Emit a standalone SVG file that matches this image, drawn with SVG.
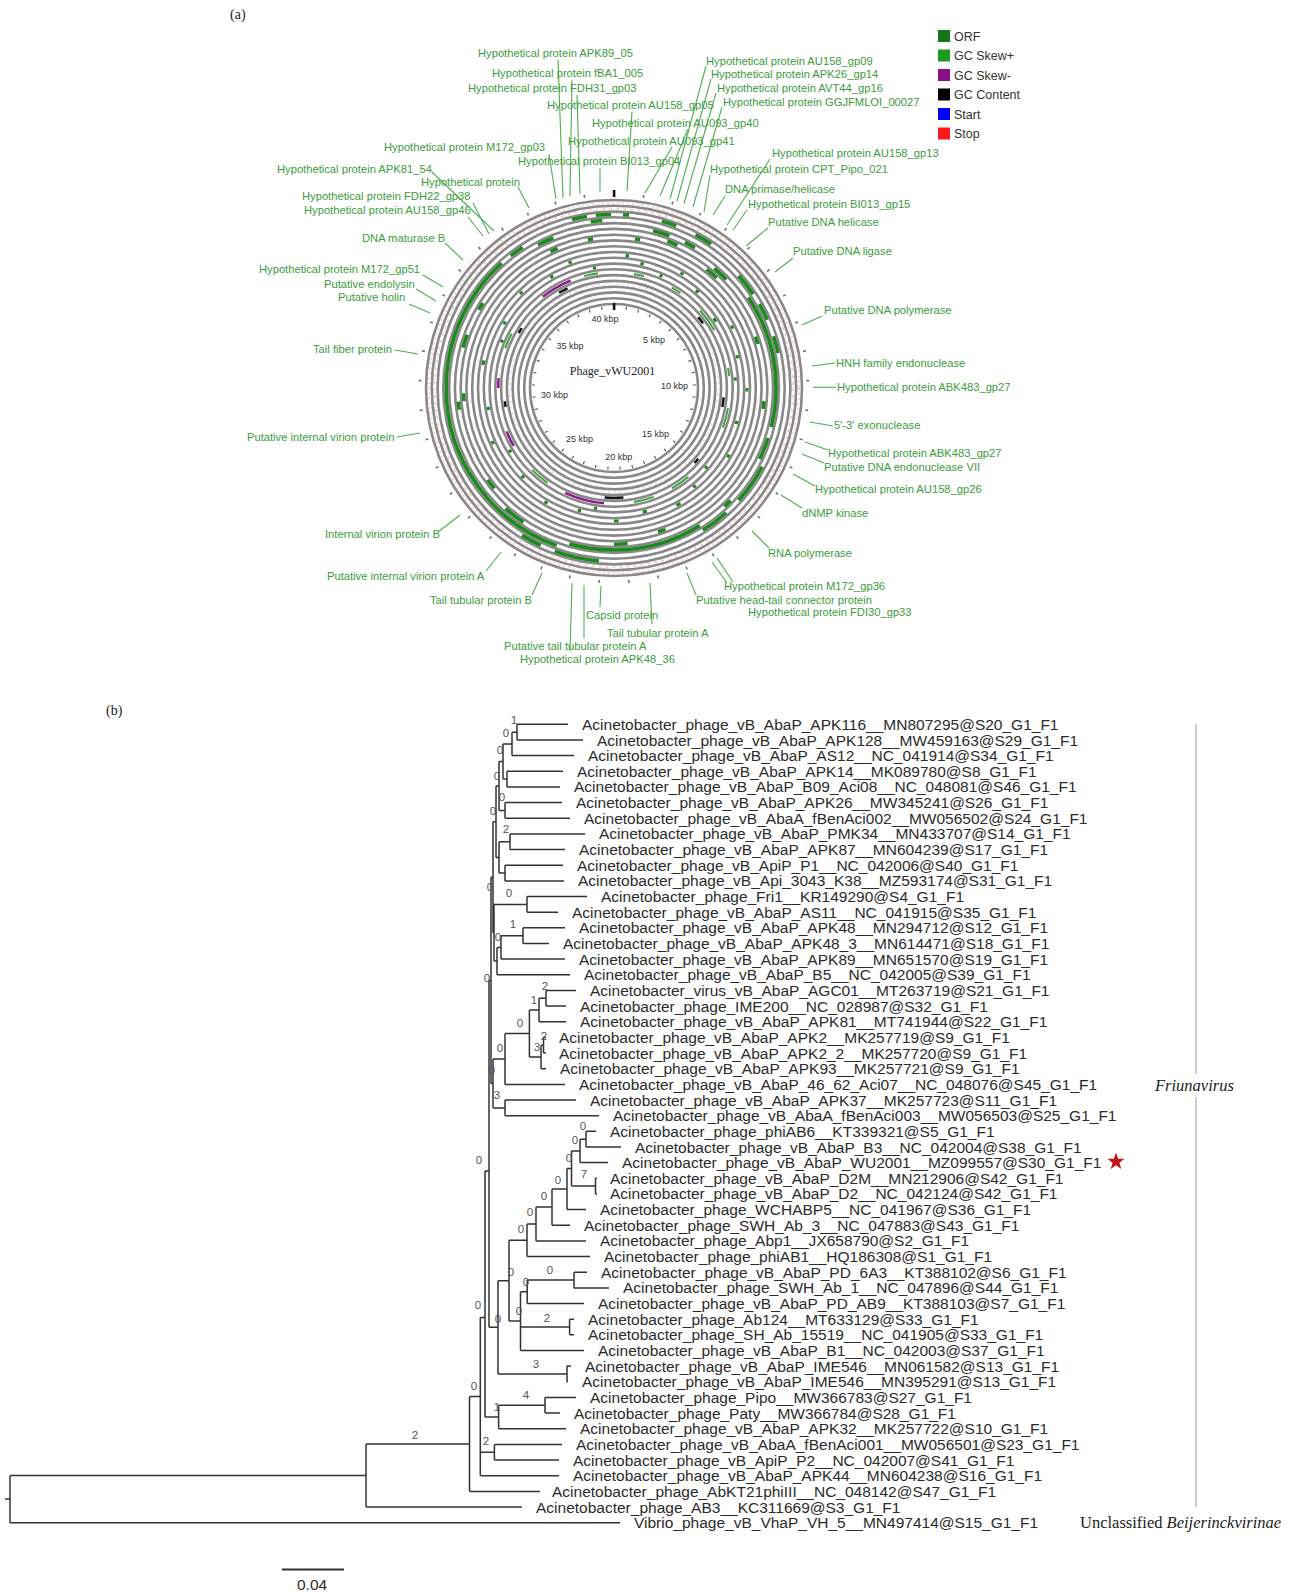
<svg xmlns="http://www.w3.org/2000/svg" width="1303" height="1595" viewBox="0 0 1303 1595">
<style>
.lbl{font-family:"Liberation Sans",Arial,sans-serif;font-size:11.2px;fill:#3c9c3c}
.ldr{stroke:#4fae4f;stroke-width:1.1;fill:none}
.ring{fill:none;stroke:#888;stroke-width:2.6}
.trk{fill:none}
.kbp{font-family:"Liberation Sans",Arial,sans-serif;font-size:9px;fill:#333;text-anchor:middle}
.leg{font-family:"Liberation Sans",Arial,sans-serif;font-size:12.5px;fill:#333}
.leaf{font-family:"Liberation Sans",Arial,sans-serif;font-size:15.5px;fill:#2b2b2b}
.sup{font-family:"Liberation Sans",Arial,sans-serif;font-size:11.5px;fill:#555;text-anchor:middle}
.br{stroke:#333;stroke-width:1.5;fill:none}
.ser{font-family:"Liberation Serif","Times New Roman",serif;fill:#222}
</style>
<rect width="1303" height="1595" fill="#fff"/>
<text class="ser" x="230" y="19" font-size="14">(a)</text>
<text class="ser" x="106" y="715" font-size="14">(b)</text>

<!-- Circular genome map -->
<g id="genome-map">
  <g id="rings">
    <circle class="ring" cx="614" cy="388" r="188"/>
    <circle class="ring" cx="614" cy="388" r="182.2"/>
    <circle class="ring" cx="614" cy="388" r="176.4"/>
    <circle class="ring" cx="614" cy="388" r="170.7"/>
    <circle class="ring" cx="614" cy="388" r="164.9"/>
    <circle class="ring" cx="614" cy="388" r="159.1"/>
    <circle class="ring" cx="614" cy="388" r="153.3"/>
    <circle class="ring" cx="614" cy="388" r="147.6"/>
    <circle class="ring" cx="614" cy="388" r="141.8" stroke-width="6.5" stroke="#8f8f8f"/>
    <circle class="ring" cx="614" cy="388" r="136"/>
    <circle class="ring" cx="614" cy="388" r="130.2"/>
    <circle class="ring" cx="614" cy="388" r="124.4"/>
    <circle class="ring" cx="614" cy="388" r="118.7"/>
    <circle class="ring" cx="614" cy="388" r="112.9"/>
    <circle class="ring" cx="614" cy="388" r="107.1"/>
    <circle class="ring" cx="614" cy="388" r="101.3"/>
    <circle class="ring" cx="614" cy="388" r="95.6"/>
    <circle class="ring" cx="614" cy="388" r="89.8"/>
    <circle class="ring" cx="614" cy="388" r="84"/>
    <circle cx="614" cy="388" r="185.1" fill="none" stroke="#f3d2d2" stroke-width="2" stroke-dasharray="2 3"/>
    <circle cx="614" cy="388" r="179.3" fill="none" stroke="#f3d2d2" stroke-width="2" stroke-dasharray="3 4"/>
    <circle cx="614" cy="388" r="104.2" fill="none" stroke="#f0d0ec" stroke-width="1.5" stroke-dasharray="2 4"/>
  </g>
  <g id="tracks" transform="rotate(-90 614 388)">
    <circle class="trk" cx="614" cy="388" r="173.6" pathLength="360" stroke="#1a8a1a" stroke-width="3.5" stroke-dasharray="0 3 2 11 5 7 6 151 15 5 7 134 5 3 5 1"/>
    <circle class="trk" cx="614" cy="388" r="167.8" pathLength="360" stroke="#1a8a1a" stroke-width="3.5" stroke-dasharray="0 48 8 4 6 6 6 40 14 6 10 52 118 4 5 25 4 4"/>
    <circle class="trk" cx="614" cy="388" r="162" pathLength="360" stroke="#1a8a1a" stroke-width="3.5" stroke-dasharray="0 14 6 6 4 26 48 4 8 18 3 11 48 18 8 110 6 22"/>
    <circle class="trk" cx="614" cy="388" r="156.2" pathLength="360" stroke="#1a8a1a" stroke-width="3.5" stroke-dasharray="0 20 4 16 6 129 5 50 4 28 3 20 5 10 3 57"/>
    <circle class="trk" cx="614" cy="388" r="150.5" pathLength="360" stroke="#1a8a1a" stroke-width="3.5" stroke-dasharray="0 8 2 28 5 27 3 22 3 62 3 102 3 67 3 12 2 8"/>
    <circle class="trk" cx="614" cy="388" r="133" pathLength="360" stroke="#1a8a1a" stroke-width="3" stroke-dasharray="0 5 1.5 23.5 1.5 30.5 1.5 26.5 1.5 28.5 1.5 28.5 2 26 2 30 1.5 33.5 1.5 33.5 2 33 1.5 23.5 1.5 18.5"/>
    <circle class="trk" cx="614" cy="388" r="127.3" pathLength="360" stroke="#1a8a1a" stroke-width="3" stroke-dasharray="0 12 1.5 26.5 1.5 33.5 1.5 28.5 1.5 33.5 1.5 23.5 2 28 1.5 28.5 1.5 33.5 1.5 38.5 1.5 28.5 1.5 28.5"/>
    <circle class="trk" cx="614" cy="388" r="121.6" pathLength="360" stroke="#1a8a1a" stroke-width="3" stroke-dasharray="0 22 1.5 31.5 2 28 1.5 43.5 1.5 56.5 1.5 48.5 1.5 52.5 1.5 56.5 1.5 8.5"/>
    <circle class="trk" cx="614" cy="388" r="115.8" pathLength="360" stroke="#3aa53a" stroke-width="2" stroke-dasharray="0 10 5 15 5 13 12 20 4 16 10 30 10 10 10 45 10 65 8 47 7 8"/>
    <circle class="trk" cx="614" cy="388" r="115.8" pathLength="360" stroke="#8b1a8b" stroke-width="2.5" stroke-dasharray="0 185 20 35 8 22 5 47 16 22"/>
    <circle class="trk" cx="614" cy="388" r="110" pathLength="360" stroke="#111" stroke-width="2.5" stroke-dasharray="0 50 4 41 5 30 3 42 10 75 3 37 3 27 5 25"/>
    <circle class="trk" cx="614" cy="388" r="194" pathLength="360" stroke="#777" stroke-width="3" stroke-dasharray="0.5 8.2805" stroke-dashoffset="0.25"/>
    <circle class="trk" cx="614" cy="388" r="80.5" pathLength="360" stroke="#555" stroke-width="3" stroke-dasharray="0.8 7.9805" stroke-dashoffset="0.4"/>
  </g>
  <rect x="612.8" y="190" width="2.6" height="7" fill="#111"/>
  <rect x="612.8" y="303" width="2.6" height="7" fill="#111"/>
  <text class="kbp" x="605" y="322">40 kbp</text>
  <text class="kbp" x="654" y="343">5 kbp</text>
  <text class="kbp" x="674.5" y="389">10 kbp</text>
  <text class="kbp" x="655.5" y="437">15 kbp</text>
  <text class="kbp" x="618.7" y="460">20 kbp</text>
  <text class="kbp" x="579.5" y="442">25 kbp</text>
  <text class="kbp" x="554.5" y="398">30 kbp</text>
  <text class="kbp" x="570" y="349">35 kbp</text>
  <text class="ser" x="612.5" y="375" font-size="12" text-anchor="middle" fill="#333">Phage_vWU2001</text>
</g>

<g id="map-connectors">
  <line class="ldr" x1="558" y1="60" x2="563" y2="198"/>
  <line class="ldr" x1="572" y1="80" x2="570" y2="196"/>
  <line class="ldr" x1="577" y1="95" x2="580" y2="194"/>
  <line class="ldr" x1="632" y1="112" x2="627" y2="191"/>
  <line class="ldr" x1="688" y1="129" x2="660" y2="196"/>
  <line class="ldr" x1="672" y1="147" x2="645" y2="193"/>
  <line class="ldr" x1="600" y1="168" x2="600" y2="191.5"/>
  <line class="ldr" x1="549" y1="154" x2="556" y2="199"/>
  <line class="ldr" x1="706" y1="66" x2="670" y2="199"/>
  <line class="ldr" x1="711" y1="79" x2="677" y2="201"/>
  <line class="ldr" x1="716" y1="93" x2="684" y2="203.5"/>
  <line class="ldr" x1="722" y1="107" x2="693" y2="207"/>
  <line class="ldr" x1="770" y1="159" x2="727" y2="225"/>
  <line class="ldr" x1="710" y1="175" x2="704" y2="212"/>
  <line class="ldr" x1="725" y1="196" x2="713" y2="215"/>
  <line class="ldr" x1="747" y1="210" x2="733" y2="230"/>
  <line class="ldr" x1="768" y1="228" x2="746" y2="246"/>
  <line class="ldr" x1="793" y1="258" x2="775" y2="272"/>
  <line class="ldr" x1="822" y1="316" x2="802" y2="325"/>
  <line class="ldr" x1="835" y1="363" x2="812" y2="366"/>
  <line class="ldr" x1="836" y1="387.3" x2="813" y2="387.3"/>
  <line class="ldr" x1="833" y1="426" x2="810" y2="422"/>
  <line class="ldr" x1="828" y1="450" x2="805" y2="442"/>
  <line class="ldr" x1="824" y1="463" x2="802" y2="454"/>
  <line class="ldr" x1="815" y1="486" x2="793" y2="474"/>
  <line class="ldr" x1="802" y1="508" x2="781" y2="495"/>
  <line class="ldr" x1="769" y1="548" x2="752" y2="531"/>
  <line class="ldr" x1="733" y1="582" x2="717" y2="558"/>
  <line class="ldr" x1="727" y1="583" x2="712" y2="562"/>
  <line class="ldr" x1="696" y1="595" x2="687" y2="573"/>
  <line class="ldr" x1="652" y1="624" x2="650" y2="583"/>
  <line class="ldr" x1="600" y1="607" x2="601" y2="586"/>
  <line class="ldr" x1="584" y1="638" x2="584" y2="585.5"/>
  <line class="ldr" x1="570" y1="651" x2="572" y2="583"/>
  <line class="ldr" x1="532" y1="595" x2="542" y2="573"/>
  <line class="ldr" x1="486" y1="571" x2="501" y2="552"/>
  <line class="ldr" x1="438" y1="532" x2="460" y2="515"/>
  <line class="ldr" x1="397" y1="437" x2="420" y2="433"/>
  <line class="ldr" x1="395" y1="350" x2="418" y2="354"/>
  <line class="ldr" x1="409" y1="304" x2="430" y2="313"/>
  <line class="ldr" x1="416" y1="289" x2="436" y2="301"/>
  <line class="ldr" x1="423" y1="275" x2="443" y2="287"/>
  <line class="ldr" x1="445" y1="243" x2="463" y2="260"/>
  <line class="ldr" x1="468" y1="217" x2="483" y2="236"/>
  <line class="ldr" x1="473" y1="203" x2="489" y2="234"/>
  <line class="ldr" x1="432" y1="172" x2="494" y2="231"/>
  <line class="ldr" x1="518" y1="187" x2="529" y2="208"/>
</g>

<g id="map-labels">
  <g id="m1"><text class="lbl" x="478" y="57">Hypothetical protein APK89_05</text></g>
  <g id="m2"><text class="lbl" x="492" y="77">Hypothetical protein fBA1_005</text></g>
  <g id="m3"><text class="lbl" x="468" y="92">Hypothetical protein FDH31_gp03</text></g>
  <g id="m4"><text class="lbl" x="547" y="109">Hypothetical protein AU158_gp05</text></g>
  <g id="m5"><text class="lbl" x="592" y="127">Hypothetical protein AU093_gp40</text></g>
  <g id="m6"><text class="lbl" x="568" y="145">Hypothetical protein AU093_gp41</text></g>
  <g id="m7"><text class="lbl" x="518" y="165">Hypothetical protein BI013_gp04</text></g>
  <g id="m8"><text class="lbl" x="384" y="151">Hypothetical protein M172_gp03</text></g>
  <g id="m9"><text class="lbl" x="277" y="173">Hypothetical protein APK81_54</text></g>
  <g id="m10"><text class="lbl" x="421" y="186">Hypothetical protein</text></g>
  <g id="m11"><text class="lbl" x="302" y="200">Hypothetical protein FDH22_gp38</text></g>
  <g id="m12"><text class="lbl" x="304" y="214">Hypothetical protein AU158_gp46</text></g>
  <g id="m13"><text class="lbl" x="362" y="242">DNA maturase B</text></g>
  <g id="m14"><text class="lbl" x="259" y="273">Hypothetical protein M172_gp51</text></g>
  <g id="m15"><text class="lbl" x="324" y="288">Putative endolysin</text></g>
  <g id="m16"><text class="lbl" x="338" y="301">Putative holin</text></g>
  <g id="m17"><text class="lbl" x="313" y="353">Tail fiber protein</text></g>
  <g id="m18"><text class="lbl" x="247" y="441">Putative internal virion protein</text></g>
  <g id="m19"><text class="lbl" x="325" y="538">Internal virion protein B</text></g>
  <g id="m20"><text class="lbl" x="327" y="580">Putative internal virion protein A</text></g>
  <g id="m21"><text class="lbl" x="430" y="604">Tail tubular protein B</text></g>
  <g id="m22"><text class="lbl" x="586" y="619">Capsid protein</text></g>
  <g id="m23"><text class="lbl" x="607" y="637">Tail tubular protein A</text></g>
  <g id="m24"><text class="lbl" x="504" y="650">Putative tail tubular protein A</text></g>
  <g id="m25"><text class="lbl" x="520" y="663">Hypothetical protein APK48_36</text></g>
  <g id="m26"><text class="lbl" x="706" y="65">Hypothetical protein AU158_gp09</text></g>
  <g id="m27"><text class="lbl" x="711" y="78">Hypothetical protein APK26_gp14</text></g>
  <g id="m28"><text class="lbl" x="717" y="92">Hypothetical protein AVT44_gp16</text></g>
  <g id="m29"><text class="lbl" x="723" y="106">Hypothetical protein GGJFMLOI_00027</text></g>
  <g id="m30"><text class="lbl" x="772" y="157">Hypothetical protein AU158_gp13</text></g>
  <g id="m31"><text class="lbl" x="710" y="173">Hypothetical protein CPT_Pipo_021</text></g>
  <g id="m32"><text class="lbl" x="725" y="193">DNA primase/helicase</text></g>
  <g id="m33"><text class="lbl" x="748" y="208">Hypothetical protein BI013_gp15</text></g>
  <g id="m34"><text class="lbl" x="768" y="226">Putative DNA helicase</text></g>
  <g id="m35"><text class="lbl" x="793" y="255">Putative DNA ligase</text></g>
  <g id="m36"><text class="lbl" x="824" y="314">Putative DNA polymerase</text></g>
  <g id="m37"><text class="lbl" x="836" y="367">HNH family endonuclease</text></g>
  <g id="m38"><text class="lbl" x="837" y="391">Hypothetical protein ABK483_gp27</text></g>
  <g id="m39"><text class="lbl" x="834" y="429">5'-3' exonuclease</text></g>
  <g id="m40"><text class="lbl" x="828" y="457">Hypothetical protein ABK483_gp27</text></g>
  <g id="m41"><text class="lbl" x="824" y="471">Putative DNA endonuclease VII</text></g>
  <g id="m42"><text class="lbl" x="815" y="493">Hypothetical protein AU158_gp26</text></g>
  <g id="m43"><text class="lbl" x="802" y="517">dNMP kinase</text></g>
  <g id="m44"><text class="lbl" x="768" y="557">RNA polymerase</text></g>
  <g id="m45"><text class="lbl" x="724" y="590">Hypothetical protein M172_gp36</text></g>
  <g id="m46"><text class="lbl" x="696" y="604">Putative head-tail connector protein</text></g>
  <g id="m47"><text class="lbl" x="748" y="616">Hypothetical protein FDI30_gp33</text></g>
</g>

<g id="legend">
  <rect x="938" y="30" width="12" height="12" fill="#137813"/><text class="leg" x="954" y="40.5">ORF</text>
  <rect x="938" y="49.5" width="12" height="12" fill="#1f9a1f"/><text class="leg" x="954" y="60">GC Skew+</text>
  <rect x="938" y="69" width="12" height="12" fill="#8b0f8b"/><text class="leg" x="954" y="79.5">GC Skew-</text>
  <rect x="938" y="88.5" width="12" height="12" fill="#000"/><text class="leg" x="954" y="99">GC Content</text>
  <rect x="938" y="108" width="12" height="12" fill="#0000ff"/><text class="leg" x="954" y="118.5">Start</text>
  <rect x="938" y="127.5" width="12" height="12" fill="#ff1a1a"/><text class="leg" x="954" y="138">Stop</text>
</g>

<!-- Phylogenetic tree -->
<g id="tree-connectors">
<path class="br" d="M517 724.3V740M517 724.3H568M517 740H583M512 732.2V755.6M512 732.2H517M512 755.6H574M507 771.3V786.9M507 771.3H563M507 786.9H560M503 743.9V779.1M503 743.9H512M503 779.1H507M505 802.6V818.2M505 802.6H562M505 818.2H570M499 761.5V810.4M499 761.5H503M499 810.4H505M510 833.9V849.5M510 833.9H585M510 849.5H565M505 865.2V880.9M505 865.2H563M505 880.9H564M499 841.7V873M499 841.7H510M499 873H505M496 786V857.4M496 786H499M496 857.4H499M527 896.5V912.2M527 896.5H587M527 912.2H558M523 927.8V943.5M523 927.8H565M523 943.5H549M501 935.7V959.1M501 935.7H523M501 959.1H565M497 947.4V974.8M497 947.4H501M497 974.8H570M494 904.4V961.1M494 904.4H527M494 961.1H497M493 821.7V932.8M493 821.7H496M493 932.8H494"/>
<path class="br" d="M546 990.4V1006.1M546 990.4H576M546 1006.1H566M539 998.3V1021.7M539 998.3H546M539 1021.7H566M543.5 1037.4V1053M543.5 1037.4H546M543.5 1053H546M541 1045.2V1068.7M541 1045.2H543.5M541 1068.7H546M529.4 1010V1057M529.4 1010H539M529.4 1057H541M505 1033.5V1084.4M505 1033.5H529.4M505 1084.4H565M505 1100V1115.7M505 1100H576M505 1115.7H599M493 1059V1107.9M493 1059H505M493 1107.9H505M491 877.2V1083.5M491 877.2H493M491 1083.5H493"/>
<path class="br" d="M586 1131.3V1147M586 1131.3H596M586 1147H621M580 1139.2V1162.6M580 1139.2H586M580 1162.6H608M595.5 1178.3V1193.9M595.5 1178.3H597M595.5 1193.9H597M571.5 1150.9V1186.1M571.5 1150.9H580M571.5 1186.1H595.5M567 1168.5V1209.6M567 1168.5H571.5M567 1209.6H586M552 1189V1225.2M552 1189H567M552 1225.2H570M536 1207.1V1240.9M536 1207.1H552M536 1240.9H586M527 1224V1256.6M527 1224H536M527 1256.6H590M574 1272.2V1287.9M574 1272.2H587M574 1287.9H609M527.2 1280V1303.5M527.2 1280H574M527.2 1303.5H584M569.6 1319.2V1334.8M569.6 1319.2H574M569.6 1334.8H574M520.5 1291.8V1350.5M520.5 1291.8H527.2M520.5 1327H569.6M520.5 1350.5H584M509 1240.3V1321M509 1240.3H527M509 1321H520.5M567 1366.1V1381.8M567 1366.1H571M567 1381.8H568M498 1280.7V1374M498 1280.7H509M498 1374H567"/>
<path class="br" d="M489 980.4V1327.3M489 980.4H491M489 1327.3H498M545 1397.4V1413.1M545 1397.4H576M545 1413.1H560M498.6 1405.3V1428.7M498.6 1405.3H545M498.6 1428.7H566M485 1171V1416.9M485 1171H489M485 1416.9H498.6M494.4 1444.4V1460.1M494.4 1444.4H562M494.4 1460.1H559M480.3 1317.5V1475.7M480.3 1317.5H485M480.3 1452.2H494.4M480.3 1475.7H559M469.5 1396.6V1491.4M469.5 1396.6H480.3M469.5 1491.4H540M366 1444V1507M366 1444H469.5M366 1507H522M10 1475.6V1522.7M10 1475.6H366M10 1522.7H620M5 1499H10"/>
</g>

<g id="support-values">
<text class="sup" x="514" y="724">1</text>
<text class="sup" x="506" y="737">0</text>
<text class="sup" x="500" y="754">0</text>
<text class="sup" x="497" y="780">0</text>
<text class="sup" x="502" y="801">0</text>
<text class="sup" x="506" y="833">2</text>
<text class="sup" x="493" y="815">0</text>
<text class="sup" x="490" y="891">0</text>
<text class="sup" x="509" y="897">0</text>
<text class="sup" x="513" y="928">1</text>
<text class="sup" x="498" y="941">0</text>
<text class="sup" x="487" y="982">0</text>
<text class="sup" x="545" y="990">2</text>
<text class="sup" x="534" y="1004">1</text>
<text class="sup" x="520" y="1027">0</text>
<text class="sup" x="544" y="1040">2</text>
<text class="sup" x="537" y="1051">3</text>
<text class="sup" x="500" y="1052">0</text>
<text class="sup" x="492" y="1074">0</text>
<text class="sup" x="497" y="1099">3</text>
<text class="sup" x="583" y="1130">0</text>
<text class="sup" x="575" y="1144">0</text>
<text class="sup" x="569" y="1162">0</text>
<text class="sup" x="584" y="1178">7</text>
<text class="sup" x="558" y="1184">0</text>
<text class="sup" x="479" y="1164">0</text>
<text class="sup" x="544" y="1200">0</text>
<text class="sup" x="530" y="1216">0</text>
<text class="sup" x="521" y="1233">0</text>
<text class="sup" x="550" y="1274">0</text>
<text class="sup" x="511" y="1276">0</text>
<text class="sup" x="526" y="1286">0</text>
<text class="sup" x="478" y="1309">0</text>
<text class="sup" x="519" y="1315">0</text>
<text class="sup" x="498" y="1323">0</text>
<text class="sup" x="547" y="1322">2</text>
<text class="sup" x="536" y="1368">3</text>
<text class="sup" x="474" y="1390">0</text>
<text class="sup" x="526" y="1399">4</text>
<text class="sup" x="497" y="1411">1</text>
<text class="sup" x="486" y="1445">2</text>
<text class="sup" x="415" y="1439">2</text>
</g>

<g id="leaves">
<g id="leaf1"><text class="leaf" x="582" y="729.8">Acinetobacter_phage_vB_AbaP_APK116__MN807295@S20_G1_F1</text></g>
<g id="leaf2"><text class="leaf" x="597" y="745.5">Acinetobacter_phage_vB_AbaP_APK128__MW459163@S29_G1_F1</text></g>
<g id="leaf3"><text class="leaf" x="588" y="761.1">Acinetobacter_phage_vB_AbaP_AS12__NC_041914@S34_G1_F1</text></g>
<g id="leaf4"><text class="leaf" x="577" y="776.8">Acinetobacter_phage_vB_AbaP_APK14__MK089780@S8_G1_F1</text></g>
<g id="leaf5"><text class="leaf" x="574" y="792.4">Acinetobacter_phage_vB_AbaP_B09_Aci08__NC_048081@S46_G1_F1</text></g>
<g id="leaf6"><text class="leaf" x="576" y="808.1">Acinetobacter_phage_vB_AbaP_APK26__MW345241@S26_G1_F1</text></g>
<g id="leaf7"><text class="leaf" x="584" y="823.7">Acinetobacter_phage_vB_AbaA_fBenAci002__MW056502@S24_G1_F1</text></g>
<g id="leaf8"><text class="leaf" x="599" y="839.4">Acinetobacter_phage_vB_AbaP_PMK34__MN433707@S14_G1_F1</text></g>
<g id="leaf9"><text class="leaf" x="579" y="855">Acinetobacter_phage_vB_AbaP_APK87__MN604239@S17_G1_F1</text></g>
<g id="leaf10"><text class="leaf" x="577" y="870.7">Acinetobacter_phage_vB_ApiP_P1__NC_042006@S40_G1_F1</text></g>
<g id="leaf11"><text class="leaf" x="578" y="886.4">Acinetobacter_phage_vB_Api_3043_K38__MZ593174@S31_G1_F1</text></g>
<g id="leaf12"><text class="leaf" x="601" y="902">Acinetobacter_phage_Fri1__KR149290@S4_G1_F1</text></g>
<g id="leaf13"><text class="leaf" x="572" y="917.7">Acinetobacter_phage_vB_AbaP_AS11__NC_041915@S35_G1_F1</text></g>
<g id="leaf14"><text class="leaf" x="579" y="933.3">Acinetobacter_phage_vB_AbaP_APK48__MN294712@S12_G1_F1</text></g>
<g id="leaf15"><text class="leaf" x="563" y="949">Acinetobacter_phage_vB_AbaP_APK48_3__MN614471@S18_G1_F1</text></g>
<g id="leaf16"><text class="leaf" x="579" y="964.6">Acinetobacter_phage_vB_AbaP_APK89__MN651570@S19_G1_F1</text></g>
<g id="leaf17"><text class="leaf" x="584" y="980.3">Acinetobacter_phage_vB_AbaP_B5__NC_042005@S39_G1_F1</text></g>
<g id="leaf18"><text class="leaf" x="590" y="995.9">Acinetobacter_virus_vB_AbaP_AGC01__MT263719@S21_G1_F1</text></g>
<g id="leaf19"><text class="leaf" x="580" y="1011.6">Acinetobacter_phage_IME200__NC_028987@S32_G1_F1</text></g>
<g id="leaf20"><text class="leaf" x="580" y="1027.2">Acinetobacter_phage_vB_AbaP_APK81__MT741944@S22_G1_F1</text></g>
<g id="leaf21"><text class="leaf" x="559" y="1042.9">Acinetobacter_phage_vB_AbaP_APK2__MK257719@S9_G1_F1</text></g>
<g id="leaf22"><text class="leaf" x="559" y="1058.5">Acinetobacter_phage_vB_AbaP_APK2_2__MK257720@S9_G1_F1</text></g>
<g id="leaf23"><text class="leaf" x="560" y="1074.2">Acinetobacter_phage_vB_AbaP_APK93__MK257721@S9_G1_F1</text></g>
<g id="leaf24"><text class="leaf" x="579" y="1089.9">Acinetobacter_phage_vB_AbaP_46_62_Aci07__NC_048076@S45_G1_F1</text></g>
<g id="leaf25"><text class="leaf" x="590" y="1105.5">Acinetobacter_phage_vB_AbaP_APK37__MK257723@S11_G1_F1</text></g>
<g id="leaf26"><text class="leaf" x="613" y="1121.2">Acinetobacter_phage_vB_AbaA_fBenAci003__MW056503@S25_G1_F1</text></g>
<g id="leaf27"><text class="leaf" x="610" y="1136.8">Acinetobacter_phage_phiAB6__KT339321@S5_G1_F1</text></g>
<g id="leaf28"><text class="leaf" x="635" y="1152.5">Acinetobacter_phage_vB_AbaP_B3__NC_042004@S38_G1_F1</text></g>
<g id="leaf29"><text class="leaf" x="622" y="1168.1">Acinetobacter_phage_vB_AbaP_WU2001__MZ099557@S30_G1_F1</text><polygon points="1116,1152.6 1118.1,1158.7 1124.6,1158.8 1119.4,1162.7 1121.3,1168.9 1116,1165.2 1110.7,1168.9 1112.6,1162.7 1107.4,1158.8 1113.9,1158.7" fill="#c0141a"/></g>
<g id="leaf30"><text class="leaf" x="610" y="1183.8">Acinetobacter_phage_vB_AbaP_D2M__MN212906@S42_G1_F1</text></g>
<g id="leaf31"><text class="leaf" x="610" y="1199.4">Acinetobacter_phage_vB_AbaP_D2__NC_042124@S42_G1_F1</text></g>
<g id="leaf32"><text class="leaf" x="600" y="1215.1">Acinetobacter_phage_WCHABP5__NC_041967@S36_G1_F1</text></g>
<g id="leaf33"><text class="leaf" x="584" y="1230.7">Acinetobacter_phage_SWH_Ab_3__NC_047883@S43_G1_F1</text></g>
<g id="leaf34"><text class="leaf" x="600" y="1246.4">Acinetobacter_phage_Abp1__JX658790@S2_G1_F1</text></g>
<g id="leaf35"><text class="leaf" x="604" y="1262.1">Acinetobacter_phage_phiAB1__HQ186308@S1_G1_F1</text></g>
<g id="leaf36"><text class="leaf" x="601" y="1277.7">Acinetobacter_phage_vB_AbaP_PD_6A3__KT388102@S6_G1_F1</text></g>
<g id="leaf37"><text class="leaf" x="623" y="1293.4">Acinetobacter_phage_SWH_Ab_1__NC_047896@S44_G1_F1</text></g>
<g id="leaf38"><text class="leaf" x="598" y="1309">Acinetobacter_phage_vB_AbaP_PD_AB9__KT388103@S7_G1_F1</text></g>
<g id="leaf39"><text class="leaf" x="588" y="1324.7">Acinetobacter_phage_Ab124__MT633129@S33_G1_F1</text></g>
<g id="leaf40"><text class="leaf" x="588" y="1340.3">Acinetobacter_phage_SH_Ab_15519__NC_041905@S33_G1_F1</text></g>
<g id="leaf41"><text class="leaf" x="598" y="1356">Acinetobacter_phage_vB_AbaP_B1__NC_042003@S37_G1_F1</text></g>
<g id="leaf42"><text class="leaf" x="585" y="1371.6">Acinetobacter_phage_vB_AbaP_IME546__MN061582@S13_G1_F1</text></g>
<g id="leaf43"><text class="leaf" x="582" y="1387.3">Acinetobacter_phage_vB_AbaP_IME546__MN395291@S13_G1_F1</text></g>
<g id="leaf44"><text class="leaf" x="590" y="1402.9">Acinetobacter_phage_Pipo__MW366783@S27_G1_F1</text></g>
<g id="leaf45"><text class="leaf" x="574" y="1418.6">Acinetobacter_phage_Paty__MW366784@S28_G1_F1</text></g>
<g id="leaf46"><text class="leaf" x="580" y="1434.2">Acinetobacter_phage_vB_AbaP_APK32__MK257722@S10_G1_F1</text></g>
<g id="leaf47"><text class="leaf" x="576" y="1449.9">Acinetobacter_phage_vB_AbaA_fBenAci001__MW056501@S23_G1_F1</text></g>
<g id="leaf48"><text class="leaf" x="573" y="1465.6">Acinetobacter_phage_vB_ApiP_P2__NC_042007@S41_G1_F1</text></g>
<g id="leaf49"><text class="leaf" x="573" y="1481.2">Acinetobacter_phage_vB_AbaP_APK44__MN604238@S16_G1_F1</text></g>
<g id="leaf50"><text class="leaf" x="552" y="1496.9">Acinetobacter_phage_AbKT21phiIII__NC_048142@S47_G1_F1</text></g>
<g id="leaf51"><text class="leaf" x="536" y="1512.5">Acinetobacter_phage_AB3__KC311669@S3_G1_F1</text></g>
<g id="leaf52"><text class="leaf" x="634" y="1528.2">Vibrio_phage_vB_VhaP_VH_5__MN497414@S15_G1_F1</text></g>
</g>

<g id="clade-bracket">
  <path d="M1196 724V1074M1196 1097V1507" stroke="#9a9a9a" stroke-width="1" fill="none"/>
  <text class="ser" x="1155" y="1091" font-size="16.5" font-style="italic">Friunavirus</text>
  <text class="ser" x="1080" y="1528" font-size="16.5">Unclassified <tspan font-style="italic">Beijerinckvirinae</tspan></text>
</g>

<g id="scale-bar">
  <line x1="282" y1="1569.6" x2="344" y2="1569.6" stroke="#333" stroke-width="2"/>
  <text class="leaf" x="297" y="1590">0.04</text>
</g>
</svg>
